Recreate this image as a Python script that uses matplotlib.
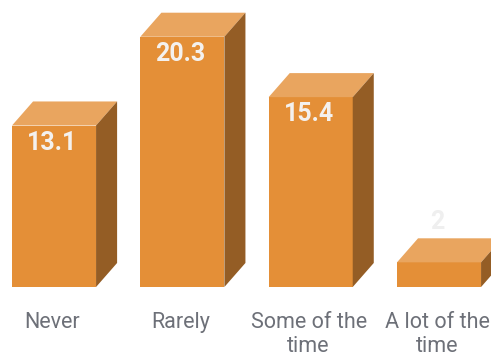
import matplotlib
matplotlib.use("Agg")
import matplotlib.pyplot as plt
from matplotlib.patches import Polygon

categories = ["Never", "Rarely", "Some of the\ntime", "A lot of the\ntime"]
values = [13.1, 20.3, 15.4, 2]
labels = ["13.1", "20.3", "15.4", "2"]
label_colors = ["#f4f1ee", "#f4f1ee", "#f4f1ee", "#efefef"]

front = "#e48f37"
top = "#e9a55f"
side = "#945d25"
bar_w = 0.655
dx = 0.164
dy = 1.95
nudge = 0.016

plt.rcParams["font.family"] = ["Roboto", "DejaVu Sans"]
fig = plt.figure(figsize=(4.91, 3.56), dpi=100)
ax = fig.add_axes([0, 69 / 356, 1, 287 / 356])
ax.set_xlim(-0.421, 3.405)
ax.set_ylim(0, 23.28)

xs = list(range(len(values)))
ax.bar(xs, values, width=bar_w, color=front, zorder=2)
for x, v, lab, col in zip(xs, values, labels, label_colors):
    l, r = x - bar_w / 2, x + bar_w / 2
    ax.add_patch(Polygon([(l, v), (r, v), (r + dx, v + dy), (l + dx, v + dy)], color=top, lw=0, zorder=2))
    ax.add_patch(Polygon([(r, 0), (r, v), (r + dx, v + dy), (r + dx, dy)], color=side, lw=0, zorder=2))
    # the small bar has its number above the box, not on the front
    ypos = v - 1.4 if v > 5 else v + 3.3
    ax.text(x - nudge, ypos, lab, color=col, fontsize=18, fontweight="bold", ha="center", va="center", zorder=3)

ax.set_xticks([x - nudge for x in xs])
ax.set_xticklabels(categories, fontsize=15.5, color="#6d7078", linespacing=1.2)
ax.tick_params(axis="x", length=0, pad=18)
ax.set_yticks([])
for s in ax.spines.values():
    s.set_visible(False)
ax.patch.set_visible(False)

fig.savefig("out.png", dpi=100)
